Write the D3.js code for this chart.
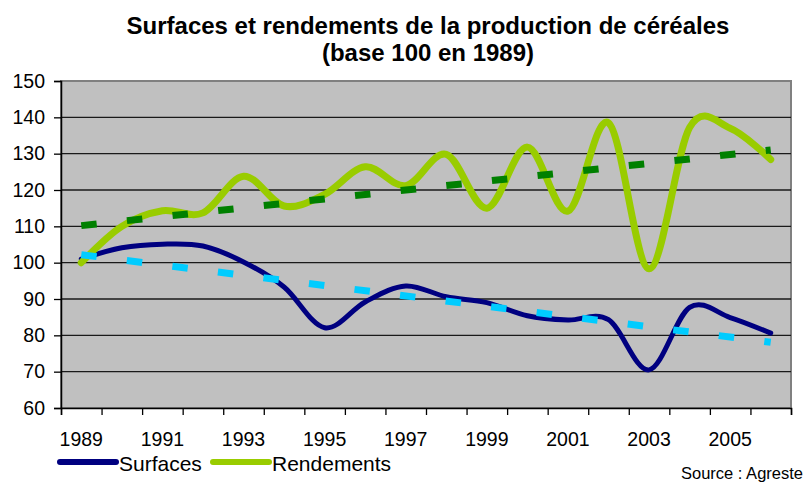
<!DOCTYPE html>
<html>
<head>
<meta charset="utf-8">
<script src="https://cdn.jsdelivr.net/npm/d3@7"></script>
<style>
  body { margin: 0; background: #fff; }
  text { font-family: "Liberation Sans", Arial, sans-serif; fill: #000; }
</style>
</head>
<body>
<svg id="chart" width="805" height="482"></svg>
<script>
// valeurs (base 100 en 1989)
const years = [1989, 1990, 1991, 1992, 1993, 1994, 1995, 1996, 1997, 1998,
               1999, 2000, 2001, 2002, 2003, 2004, 2005, 2006];
const surfaces = [101, 104.1, 105.1, 104.6, 100.2, 93.3, 82.1, 89.2, 93.6, 90.6,
                  89, 85.4, 84.2, 84.3, 70.5, 87.7, 84.9, 80.6];
const rendements = [100, 110, 114.3, 113.7, 123.8, 115.6, 118.8, 126.4, 121.2, 129.8,
                    115, 131.8, 114.2, 138.5, 98.3, 137.2, 137, 128.4];
// tendances lineaires (debut, fin)
const trendSurfaces = [102.2, 78.1];
const trendRendements = [110.2, 131];
const yTicks = [60, 70, 80, 90, 100, 110, 120, 130, 140, 150];
const xLabels = [1989, 1991, 1993, 1995, 1997, 1999, 2001, 2003, 2005];

const svg = d3.select("#chart");
const plotLeft = 61, plotRight = 791, plotTop = 81, plotBottom = 408;

const x = d3.scaleLinear().domain([0, years.length]).range([plotLeft, plotRight]);
const y = d3.scaleLinear().domain([60, 150]).range([plotBottom, plotTop]);
const xc = i => x(i + 0.5);

// titre
svg.append("text")
    .attr("x", 428).attr("y", 33.5)
    .attr("text-anchor", "middle")
    .style("font-size", "24px").style("font-weight", "bold")
    .text("Surfaces et rendements de la production de céréales");
svg.append("text")
    .attr("x", 428).attr("y", 61)
    .attr("text-anchor", "middle")
    .style("font-size", "24px").style("font-weight", "bold")
    .text("(base 100 en 1989)");

// zone de trace
svg.append("rect")
    .attr("x", plotLeft).attr("y", plotTop)
    .attr("width", plotRight - plotLeft).attr("height", plotBottom - plotTop)
    .attr("fill", "#c0c0c0")
    .attr("stroke", "#808080")
    .attr("stroke-width", 2);

svg.append("g")
    .selectAll("line")
    .data(yTicks.filter(d => d > 60 && d < 150))
    .enter()
    .append("line")
    .attr("x1", plotLeft).attr("x2", plotRight)
    .attr("y1", d => y(d)).attr("y2", d => y(d))
    .attr("stroke", "#1a1a1a")
    .attr("stroke-width", 1.3);

// axes
const yAxis = svg.append("g")
    .attr("transform", `translate(${plotLeft},0)`)
    .call(d3.axisLeft(y).tickValues(yTicks).tickSize(7).tickPadding(9));
yAxis.select(".domain").attr("stroke", "#000").attr("stroke-width", 1.5);
yAxis.selectAll(".tick line").attr("stroke", "#000").attr("stroke-width", 1.3);
yAxis.selectAll("text")
    .style("font-family", "'Liberation Sans', Arial, sans-serif")
    .style("font-size", "19.5px");

const xAxis = svg.append("g")
    .attr("transform", `translate(0,${plotBottom})`)
    .call(d3.axisBottom(x).tickValues(d3.range(years.length + 1)).tickSize(7).tickFormat(""));
xAxis.select(".domain").attr("stroke", "#000").attr("stroke-width", 1.5);
xAxis.selectAll(".tick line").attr("stroke", "#000").attr("stroke-width", 1.3);

svg.append("g")
    .selectAll("text")
    .data(xLabels)
    .enter()
    .append("text")
    .attr("x", d => xc(years.indexOf(d)))
    .attr("y", 446)
    .attr("text-anchor", "middle")
    .style("font-size", "19.5px")
    .text(d => d);

// courbes lissees
const line = d3.line()
    .x((d, i) => xc(i))
    .y(d => y(d))
    .curve(d3.curveCardinal.tension(0));

svg.append("path")
    .datum(surfaces)
    .attr("d", line)
    .attr("fill", "none")
    .attr("stroke", "#000080")
    .attr("stroke-width", 5)
    .attr("stroke-linecap", "round");

svg.append("path")
    .datum(rendements)
    .attr("d", line)
    .attr("fill", "none")
    .attr("stroke", "#99cc00")
    .attr("stroke-width", 7)
    .attr("stroke-linecap", "round");

// tendances
function trend(vals, color) {
    svg.append("line")
        .attr("x1", xc(0)).attr("y1", y(vals[0]))
        .attr("x2", xc(years.length - 1)).attr("y2", y(vals[1]))
        .attr("stroke", color)
        .attr("stroke-width", 7)
        .attr("stroke-dasharray", "15.5,30.4");
}
trend(trendRendements, "#008000");
trend(trendSurfaces, "#00ccff");

// legende
const legend = [
    { name: "Surfaces", color: "#000080", x: 60 },
    { name: "Rendements", color: "#99cc00", x: 213 }
];
const lg = svg.append("g").selectAll("g").data(legend).enter().append("g");
lg.append("line")
    .attr("x1", d => d.x).attr("x2", d => d.x + 56)
    .attr("y1", 462).attr("y2", 462)
    .attr("stroke", d => d.color)
    .attr("stroke-width", 6)
    .attr("stroke-linecap", "round");
lg.append("text")
    .attr("x", d => d.x + 59).attr("y", 471)
    .style("font-size", "21px")
    .text(d => d.name);

svg.append("text")
    .attr("x", 803).attr("y", 479)
    .attr("text-anchor", "end")
    .style("font-size", "16.5px")
    .text("Source : Agreste");
</script>
</body>
</html>
